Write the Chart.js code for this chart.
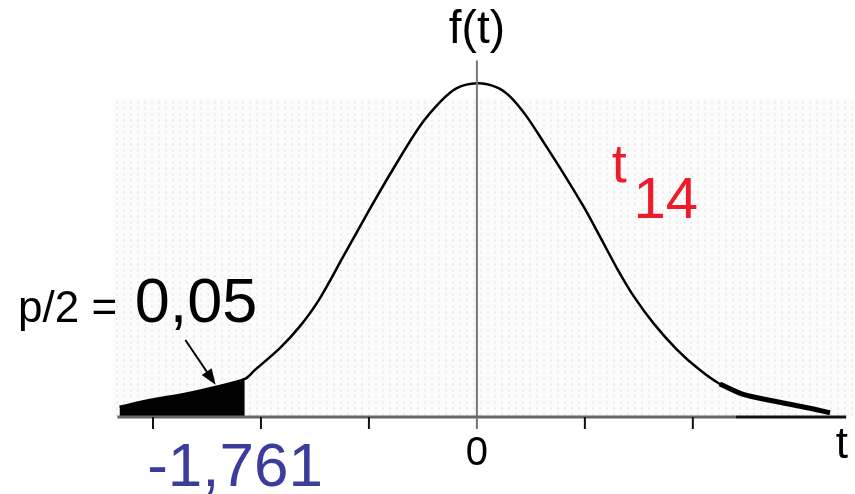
<!DOCTYPE html>
<html lang="pt">
<head>
    <meta charset="UTF-8">
    <title>Distribuição t com 14 graus de liberdade</title>
    <script src="https://cdn.jsdelivr.net/npm/chart.js"></script>
    <style>
        html, body { margin: 0; padding: 0; background: #ffffff; }
        canvas { display: block; }
    </style>
</head>
<body>
    <canvas id="tChart" width="855" height="494"></canvas>

    <script>
        // values
        const tValues = [-3.31, -3.03, -2.72, -2.44, -2.15, -2.06, -1.82, -1.64, -1.46, -1.24, -0.99, -0.78,
                         -0.53, -0.34, -0.19, 0, 0.19, 0.31, 0.46, 0.62, 0.81, 0.99, 1.14, 1.30, 1.45,
                         1.64, 1.85, 2.06, 2.25, 2.46, 2.78, 3.06, 3.27];
        const density = [0.012, 0.020, 0.027, 0.035, 0.045, 0.055, 0.082, 0.107, 0.139, 0.189, 0.246, 0.292,
                         0.343, 0.372, 0.388, 0.394, 0.389, 0.378, 0.355, 0.324, 0.286, 0.248, 0.213, 0.175, 0.143,
                         0.110, 0.080, 0.056, 0.039, 0.027, 0.018, 0.011, 0.005];
        const tickValues = [-3, -2, -1, 0, 1, 2];
        const criticalT = -2.15;   // where the shaded tail ends in the picture
        const rightTailFrom = 2.2;

        const curve = tValues.map((t, i) => ({ x: t, y: density[i] }));
        const leftTail = curve.filter(p => p.x <= criticalT + 1e-9);
        const rightTail = curve.filter(p => p.x >= rightTailFrom);

        const FONT = '"Liberation Sans", Arial, sans-serif';

        // speckled background + axes + labels
        const decor = {
            id: 'decor',
            beforeDraw(chart) {
                const c = chart.ctx;
                const xs = chart.scales.x, ys = chart.scales.y;
                const top = ys.getPixelForValue(0.375);
                const bottom = ys.getPixelForValue(0);
                const left = xs.getPixelForValue(-3.37);
                c.save();
                c.fillStyle = '#fcfcfc';
                c.fillRect(left, top, chart.width - left, bottom - top);
                c.fillStyle = '#ebebeb';
                for (let yy = top + 2; yy < bottom - 2; yy += 6) {
                    const off = (Math.round(yy) % 12 === 0) ? 0 : 3;
                    for (let xx = left + off; xx < chart.width; xx += 7) {
                        c.fillRect(xx, yy, 2, 2);
                    }
                }
                c.restore();
            },
            afterDatasetsDraw(chart) {
                const c = chart.ctx;
                const xs = chart.scales.x, ys = chart.scales.y;
                const px = v => xs.getPixelForValue(v);
                const py = v => ys.getPixelForValue(v);
                const y0 = py(0);
                c.save();

                // vertical axis
                c.strokeStyle = '#777777';
                c.lineWidth = 2;
                c.beginPath();
                c.moveTo(px(0), py(0.421));
                c.lineTo(px(0), y0);
                c.stroke();

                // horizontal axis
                c.lineWidth = 3;
                c.strokeStyle = '#666666';
                c.beginPath();
                c.moveTo(px(-3.33), y0);
                c.lineTo(px(2.4), y0);
                c.stroke();
                c.strokeStyle = '#111111';
                c.beginPath();
                c.moveTo(px(2.4), y0);
                c.lineTo(px(3.42), y0);
                c.stroke();

                // tick marks
                c.lineWidth = 2;
                tickValues.forEach(v => {
                    c.strokeStyle = v === 0 ? '#777777' : '#111111';
                    c.beginPath();
                    c.moveTo(px(v), y0);
                    c.lineTo(px(v), y0 + 12);
                    c.stroke();
                });

                // arrow to the tail
                const ax0 = px(-2.70), ay0 = py(0.091);
                const ax1 = px(-2.42), ay1 = py(0.038);
                const ang = Math.atan2(ay1 - ay0, ax1 - ax0);
                c.strokeStyle = '#000000';
                c.lineWidth = 2;
                c.beginPath();
                c.moveTo(ax0, ay0);
                c.lineTo(ax1 - 10 * Math.cos(ang), ay1 - 10 * Math.sin(ang));
                c.stroke();
                c.fillStyle = '#000000';
                c.beginPath();
                c.moveTo(ax1, ay1);
                c.lineTo(ax1 - 16 * Math.cos(ang) + 6 * Math.sin(ang), ay1 - 16 * Math.sin(ang) - 6 * Math.cos(ang));
                c.lineTo(ax1 - 16 * Math.cos(ang) - 6 * Math.sin(ang), ay1 - 16 * Math.sin(ang) + 6 * Math.cos(ang));
                c.closePath();
                c.fill();

                // texts
                c.textBaseline = 'alphabetic';
                c.fillStyle = '#000000';
                c.textAlign = 'center';
                c.font = '46px ' + FONT;
                c.fillText('f(t)', px(0), py(0.442));
                c.font = '40px ' + FONT;
                c.fillText('0', px(0), py(-0.057));
                c.font = '44px ' + FONT;
                c.fillText('t', px(3.38), py(-0.049));

                c.fillStyle = '#3c3c9c';
                c.font = '62px ' + FONT;
                c.fillText('-1,761', px(-2.24), py(-0.082));

                c.fillStyle = '#000000';
                c.textAlign = 'left';
                c.font = '44px ' + FONT;
                c.fillText('p/2 =', px(-4.25), py(0.112));
                c.font = '63px ' + FONT;
                c.fillText('0,05', px(-3.17), py(0.112));

                c.fillStyle = '#ee1c2b';
                c.font = '54px ' + FONT;
                c.fillText('t', px(1.25), py(0.278));
                c.font = '58px ' + FONT;
                c.fillText('14', px(1.45), py(0.235));
                c.restore();
            }
        };

        const ctx = document.getElementById('tChart').getContext('2d');
        const tChart = new Chart(ctx, {
            type: 'line',
            data: {
                datasets: [
                    {
                        label: 'cauda',
                        data: leftTail,
                        borderWidth: 0,
                        borderColor: '#000000',
                        backgroundColor: '#000000',
                        fill: 'origin',
                        pointRadius: 0,
                        tension: 0.3
                    },
                    {
                        label: 'f(t)',
                        data: curve,
                        borderColor: '#000000',
                        borderWidth: 2.5,
                        fill: false,
                        pointRadius: 0,
                        tension: 0.3
                    },
                    {
                        label: 'cauda direita',
                        data: rightTail,
                        borderColor: '#000000',
                        borderWidth: 5,
                        fill: false,
                        pointRadius: 0,
                        tension: 0.3
                    }
                ]
            },
            options: {
                responsive: false,
                animation: false,
                layout: { padding: { left: 99, right: 11, top: 19, bottom: 77 } },
                plugins: { legend: { display: false }, tooltip: { enabled: false } },
                scales: {
                    x: { type: 'linear', min: -3.5, max: 3.4, display: false },
                    y: { min: 0, max: 0.47, display: false }
                }
            },
            plugins: [decor]
        });
    </script>
</body>
</html>
